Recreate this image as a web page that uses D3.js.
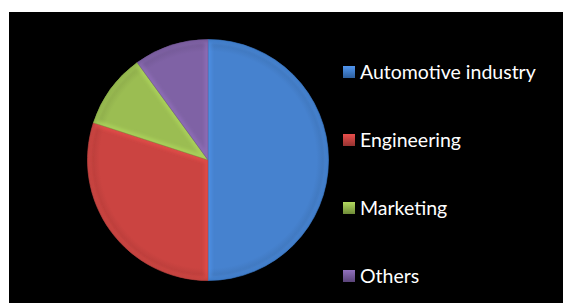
<!DOCTYPE html>
<html>
<head>
<meta charset="utf-8">
<script src="https://cdn.jsdelivr.net/npm/d3@7"></script>
<style>
  body { margin: 0; background: #fff; }
  svg { display: block; }
</style>
</head>
<body>
<div id="chart"></div>
<script>
const categories = ["Automotive industry", "Engineering", "Marketing", "Others"];
const shares = [50, 30, 10, 10];
const colors = ["#4682cf", "#cb4441", "#9bbd52", "#7f62a5"];
const edgeColors = ["#2d5f9e", "#953331", "#6f8c38", "#5a4479"];

const width = 563, height = 303;
const cx = 208, cy = 160, radius = 120.5;

const svg = d3.select("#chart").append("svg")
    .attr("width", width)
    .attr("height", height);

svg.append("rect")
    .attr("x", 9).attr("y", 12)
    .attr("width", width - 9).attr("height", height - 12)
    .attr("fill", "#000");

const defs = svg.append("defs");

defs.append("filter").attr("id", "soft")
    .append("feGaussianBlur").attr("stdDeviation", 1.6);

categories.forEach((c, i) => {
    const g = defs.append("radialGradient")
        .attr("id", "grad" + i)
        .attr("gradientUnits", "userSpaceOnUse")
        .attr("cx", 0).attr("cy", 0).attr("r", radius);
    g.append("stop").attr("offset", 0).attr("stop-color", colors[i]);
    g.append("stop").attr("offset", 0.9).attr("stop-color", colors[i]);
    g.append("stop").attr("offset", 0.97).attr("stop-color", d3.color(colors[i]).darker(0.25));
    g.append("stop").attr("offset", 1).attr("stop-color", edgeColors[i]);

    const lg = defs.append("linearGradient")
        .attr("id", "leg" + i)
        .attr("x1", 0).attr("y1", 0).attr("x2", 0).attr("y2", 1);
    lg.append("stop").attr("offset", 0).attr("stop-color", d3.color(colors[i]).brighter(0.4));
    lg.append("stop").attr("offset", 1).attr("stop-color", edgeColors[i]);
});

const pie = d3.pie().sort(null).value(d => d)(shares);
const arc = d3.arc().innerRadius(0).outerRadius(radius);

const pieG = svg.append("g").attr("transform", `translate(${cx},${cy})`);

pie.forEach((d, i) => {
    defs.append("clipPath").attr("id", "clip" + i)
        .append("path").attr("d", arc(d)).attr("transform", `translate(${cx},${cy})`);
});

const slices = pieG.selectAll(".slice")
    .data(pie)
    .join("g")
    .attr("class", "slice");

slices.append("path")
    .attr("d", arc)
    .attr("fill", (d, i) => `url(#grad${i})`);

// bevel highlight along the slice edges
svg.append("g").selectAll("g")
    .data(pie)
    .join("g")
    .attr("clip-path", (d, i) => `url(#clip${i})`)
    .append("path")
    .attr("transform", `translate(${cx},${cy})`)
    .attr("d", arc)
    .attr("fill", "none")
    .attr("stroke", (d, i) => d3.color(colors[i]).brighter(0.5))
    .attr("stroke-opacity", 0.45)
    .attr("stroke-width", 7)
    .attr("filter", "url(#soft)");

slices.append("path")
    .attr("d", arc)
    .attr("fill", "none")
    .attr("stroke", (d, i) => edgeColors[i])
    .attr("stroke-width", 0.8);

// legend
const legendY = d3.scalePoint().domain(categories).range([79, 283]);

const legend = svg.append("g").selectAll("g")
    .data(categories)
    .join("g")
    .attr("transform", d => `translate(343,${legendY(d)})`);

legend.append("rect")
    .attr("x", 0).attr("y", -13)
    .attr("width", 12).attr("height", 12)
    .attr("fill", (d, i) => `url(#leg${i})`);

legend.append("text")
    .attr("x", 17)
    .attr("y", 0)
    .attr("fill", "#fff")
    .attr("font-family", "Lato, 'Open Sans', sans-serif")
    .attr("font-size", 19.5)
    .text(d => d);
</script>
</body>
</html>
